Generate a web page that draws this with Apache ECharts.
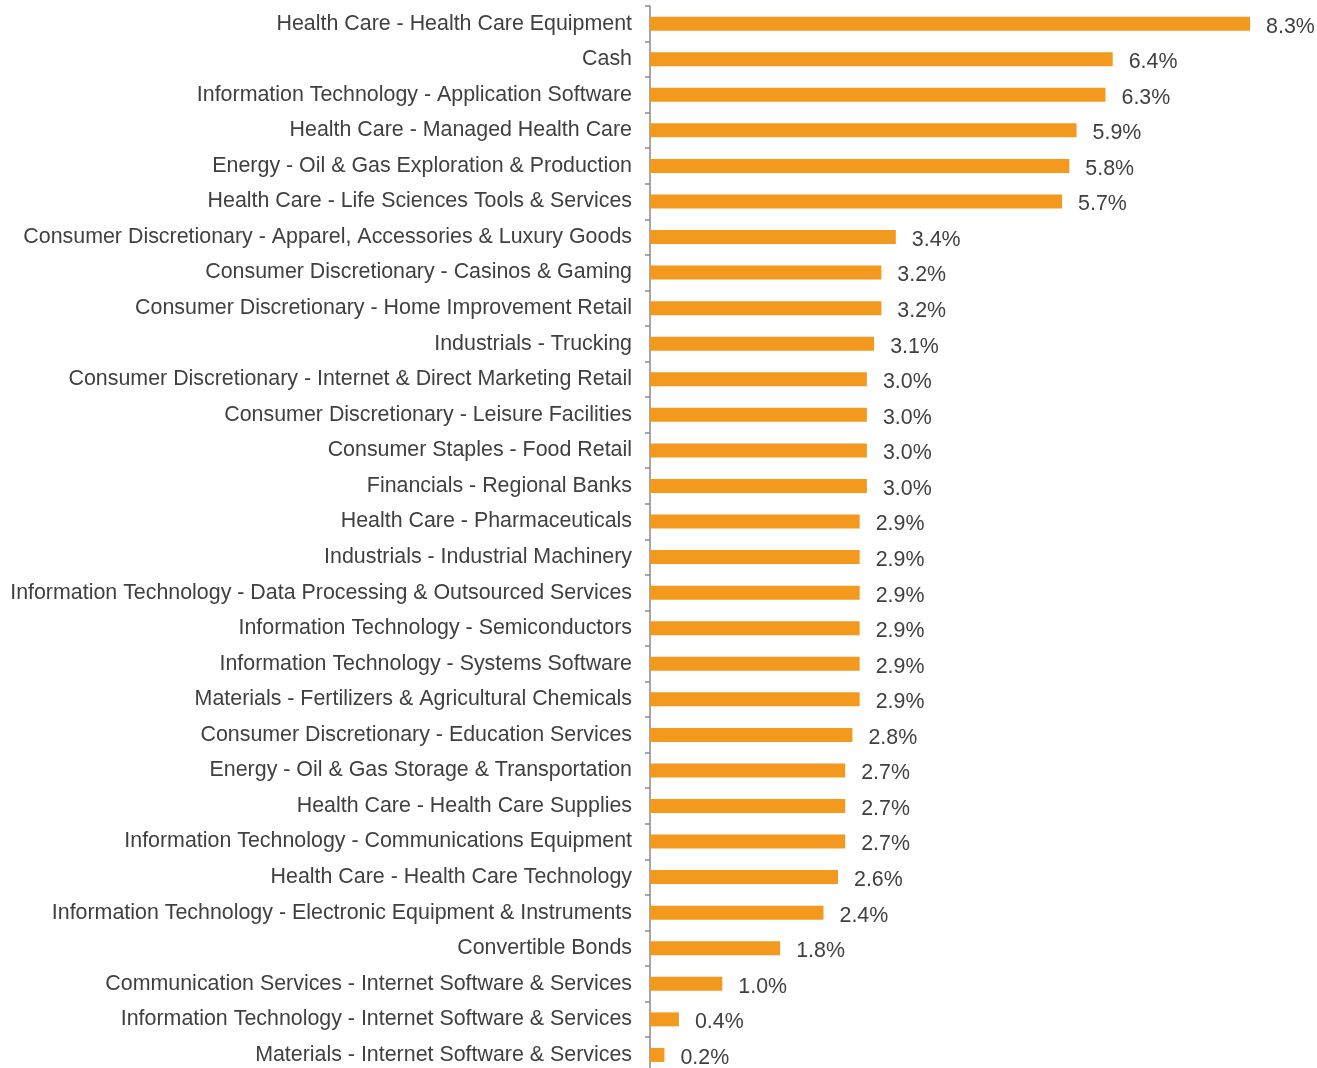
<!DOCTYPE html>
<html>
<head>
<meta charset="utf-8">
<script src="https://cdn.jsdelivr.net/npm/echarts@6/dist/echarts.min.js"></script>
<style>
html,body{margin:0;padding:0;background:#fff;}
#chart{width:1317px;height:1068px;}
</style>
</head>
<body>
<div id="chart"></div>
<script>
const categories = [
  "Health Care - Health Care Equipment",
  "Cash",
  "Information Technology - Application Software",
  "Health Care - Managed Health Care",
  "Energy - Oil & Gas Exploration & Production",
  "Health Care - Life Sciences Tools & Services",
  "Consumer Discretionary - Apparel, Accessories & Luxury Goods",
  "Consumer Discretionary - Casinos & Gaming",
  "Consumer Discretionary - Home Improvement Retail",
  "Industrials - Trucking",
  "Consumer Discretionary - Internet & Direct Marketing Retail",
  "Consumer Discretionary - Leisure Facilities",
  "Consumer Staples - Food Retail",
  "Financials - Regional Banks",
  "Health Care - Pharmaceuticals",
  "Industrials - Industrial Machinery",
  "Information Technology - Data Processing & Outsourced Services",
  "Information Technology - Semiconductors",
  "Information Technology - Systems Software",
  "Materials - Fertilizers & Agricultural Chemicals",
  "Consumer Discretionary - Education Services",
  "Energy - Oil & Gas Storage & Transportation",
  "Health Care - Health Care Supplies",
  "Information Technology - Communications Equipment",
  "Health Care - Health Care Technology",
  "Information Technology - Electronic Equipment & Instruments",
  "Convertible Bonds",
  "Communication Services - Internet Software & Services",
  "Information Technology - Internet Software & Services",
  "Materials - Internet Software & Services"
];
const weights = [8.3, 6.4, 6.3, 5.9, 5.8, 5.7, 3.4, 3.2, 3.2, 3.1, 3.0, 3.0, 3.0, 3.0,
  2.9, 2.9, 2.9, 2.9, 2.9, 2.9, 2.8, 2.7, 2.7, 2.7, 2.6, 2.4, 1.8, 1.0, 0.4, 0.2];

const chart = echarts.init(document.getElementById('chart'));
chart.setOption({
  animation: false,
  grid: { left: 650, top: 5.9, width: 650.7, height: 1066.8, containLabel: false, outerBoundsMode: 'none' },
  xAxis: {
    type: 'value', min: 0, max: 9, show: false
  },
  yAxis: {
    type: 'category', data: categories, inverse: true,
    axisLine: { show: true, lineStyle: { color: '#8a8a8a', width: 1.5 } },
    axisTick: { show: true, length: 5, lineStyle: { color: '#8a8a8a', width: 1.5 } },
    axisLabel: { fontFamily: 'Liberation Sans, Arial, sans-serif', fontSize: 21.4, color: '#404040', margin: 18, padding: [4, 0, 0, 0] },
    splitLine: { show: false }
  },
  series: [{
    type: 'bar', data: weights, barWidth: 14,
    itemStyle: { color: '#F39A1E' },
    label: {
      show: true, position: 'right', distance: 16,
      formatter: p => p.value.toFixed(1) + '%',
      fontFamily: 'Liberation Sans, Arial, sans-serif', fontSize: 21.4, color: '#404040', offset: [0, 3]
    }
  }]
});
</script>
</body>
</html>
